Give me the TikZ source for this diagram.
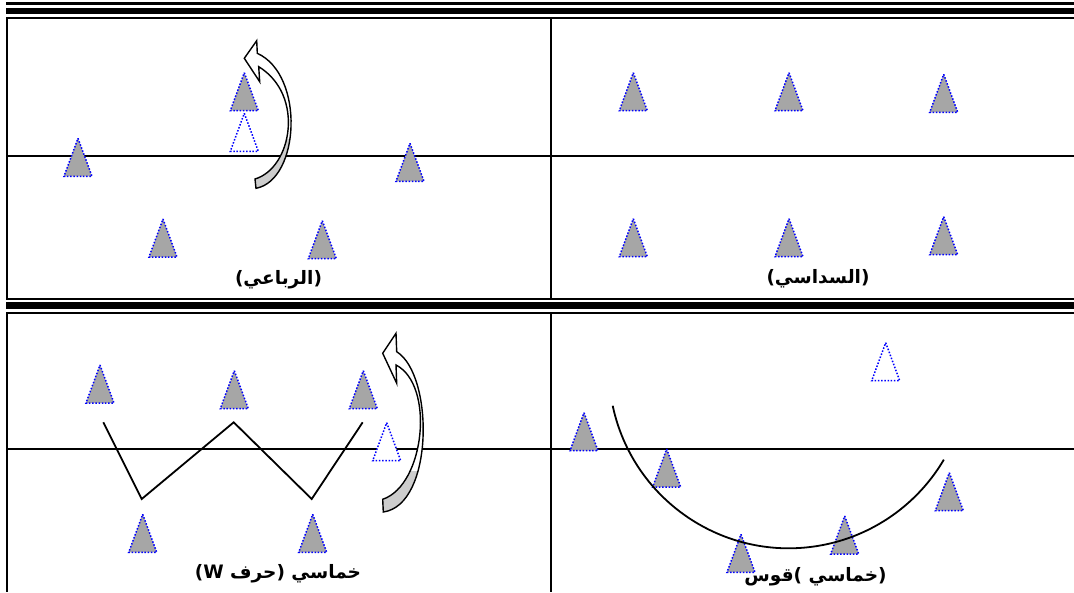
\documentclass[tikz,border=0pt]{standalone}
\usepackage{fontspec}
\TeXXeTstate=1
\newfontfamily\arabicfont[Script=Arabic]{DejaVu Sans}
\definecolor{conegray}{RGB}{166,166,166}
\definecolor{coneblue}{RGB}{0,0,255}
\definecolor{arrowgray}{RGB}{205,205,205}
\begin{document}
\begin{tikzpicture}[x=1pt,y=-1pt,
  cone/.pic={\path[pic actions] (0,0) -- (14,38) -- (-14,38) -- cycle;},
  conefill/.style={fill=conegray,draw=coneblue,line width=1.5pt,dash pattern=on 1.5pt off 1.7pt},
  conehollow/.style={fill=white,draw=coneblue,line width=1.5pt,dash pattern=on 1.5pt off 1.7pt},
  thinrule/.style={line width=2pt},
  thickrule/.style={line width=6.5pt},
  course/.style={line width=1.8pt},
  turn/.style={line width=1.4pt,line join=miter},
  lbl/.style={font=\arabicfont\bfseries\fontsize{18.5}{21}\selectfont,inner sep=0pt}]
\useasboundingbox (0,0) rectangle (1074,592);
\fill[white] (0,0) rectangle (1074,592);

% triple rules along the top
\draw[line width=2.7pt] (6,3.3) -- (1074,3.3);
\draw[thickrule] (6,11) -- (1074,11);
\draw[thinrule] (6,18.3) -- (1074,18.3);
% separator between the two rows of cells
\draw[thinrule] (6,299) -- (1074,299);
\draw[line width=7pt] (6,305.5) -- (1074,305.5);
\draw[thinrule] (6,313) -- (1074,313);
% cell borders
\draw[thinrule] (7,18) -- (7,299);
\draw[thinrule] (551,18) -- (551,299);
\draw[thinrule] (7,313) -- (7,592);
\draw[thinrule] (551,313) -- (551,592);
% half-way lines
\draw[thinrule] (7,155.7) -- (1074,155.7);
\draw[thinrule] (7,448.7) -- (1074,448.7);

% ---- square formation ----
\pic[conefill] (a1) at (78,138.3) {cone};
\pic[conefill] (a2) at (244.3,72.7) {cone};
\pic[conehollow] (a3) at (244.3,113.3) {cone};
\pic[conefill] (a4) at (410,143.3) {cone};
\pic[conefill] (a5) at (163,219) {cone};
\pic[conefill] (a6) at (322.3,220.7) {cone};
% rotation arrow
\begin{scope}
  \clip (230,138) rectangle (310,195);
  \fill[arrowgray] (255,179) .. controls (292,168) and (305,95) .. (258.7,66.7)
    -- (257.3,53.3) .. controls (305,75) and (300,180) .. (256,188.3) -- cycle;
\end{scope}
\begin{scope}
  \clip (230,30) rectangle (310,138);
  \fill[white] (255,179) .. controls (292,168) and (305,95) .. (258.7,66.7)
    -- (257.3,53.3) .. controls (305,75) and (300,180) .. (256,188.3) -- cycle;
\end{scope}
\fill[white] (258.7,66.7) -- (259.7,81.7) -- (244.3,58.3) -- (256.7,40.7) -- (257.3,53.3) -- cycle;
\draw[turn] (255,179) .. controls (292,168) and (305,95) .. (258.7,66.7)
  -- (259.7,81.7) -- (244.3,58.3) -- (256.7,40.7) -- (257.3,53.3)
  .. controls (305,75) and (300,180) .. (256,188.3) -- cycle;
\node[lbl] (l1) at (278.5,280) {\beginR(الرباعي)\endR};

% ---- hexagon formation ----
\pic[conefill] (b1) at (633.3,72.7) {cone};
\pic[conefill] (b2) at (789,72.7) {cone};
\pic[conefill] (b3) at (943.7,74.3) {cone};
\pic[conefill] (b4) at (633.3,218.7) {cone};
\pic[conefill] (b5) at (789,218.7) {cone};
\pic[conefill] (b6) at (943.7,216.7) {cone};
\node[lbl] (l2) at (818,279) {\beginR(السداسي)\endR};

% ---- W formation ----
\pic[conefill] (c1) at (100,365) {cone};
\pic[conefill] (c2) at (234.3,370.7) {cone};
\pic[conefill] (c3) at (363.3,370.7) {cone};
\pic[conehollow] (c4) at (386.7,422.7) {cone};
\pic[conefill] (c5) at (142.7,514.3) {cone};
\pic[conefill] (c6) at (312.7,514.3) {cone};
\coordinate (w1) at (103.3,422.3);
\coordinate (w2) at (141.7,499);
\coordinate (w3) at (233.7,422.3);
\coordinate (w4) at (311.7,499);
\coordinate (w5) at (362.7,422.3);
\draw[course] (w1) -- (w2) -- (w3) -- (w4) -- (w5);
% rotation arrow
\begin{scope}
  \clip (370,470) rectangle (450,520);
  \fill[arrowgray] (382.7,499.3) .. controls (425,485) and (435,385) .. (396,365)
    -- (396.7,351.7) .. controls (434,375) and (434,505) .. (383.3,512) -- cycle;
\end{scope}
\begin{scope}
  \clip (370,320) rectangle (450,470);
  \fill[white] (382.7,499.3) .. controls (425,485) and (435,385) .. (396,365)
    -- (396.7,351.7) .. controls (434,375) and (434,505) .. (383.3,512) -- cycle;
\end{scope}
\fill[white] (396,365) -- (396.7,383.3) -- (382.7,353.3) -- (396,333.3) -- (396.7,351.7) -- cycle;
\draw[turn] (382.7,499.3) .. controls (425,485) and (435,385) .. (396,365)
  -- (396.7,383.3) -- (382.7,353.3) -- (396,333.3) -- (396.7,351.7)
  .. controls (434,375) and (434,505) .. (383.3,512) -- cycle;
\node[lbl] (l3) at (278,574) {\beginR خماسي (حرف \beginL W\endL)\endR};

% ---- arc formation ----
\pic[conehollow] (d1) at (885.7,342.7) {cone};
\pic[conefill] (d2) at (584,412.7) {cone};
\pic[conefill] (d3) at (666.7,449) {cone};
\pic[conefill] (d4) at (741,534.3) {cone};
\pic[conefill] (d5) at (844.7,516) {cone};
\pic[conefill] (d6) at (949.3,472.7) {cone};
\coordinate (arcstart) at (612.7,405.7);
\draw[course] (arcstart) arc[start angle=168, end angle=30.5, radius=180];
\node[lbl] (l4) at (815.5,577) {\beginR(خماسي )قوس\endR};
\end{tikzpicture}
\end{document}
